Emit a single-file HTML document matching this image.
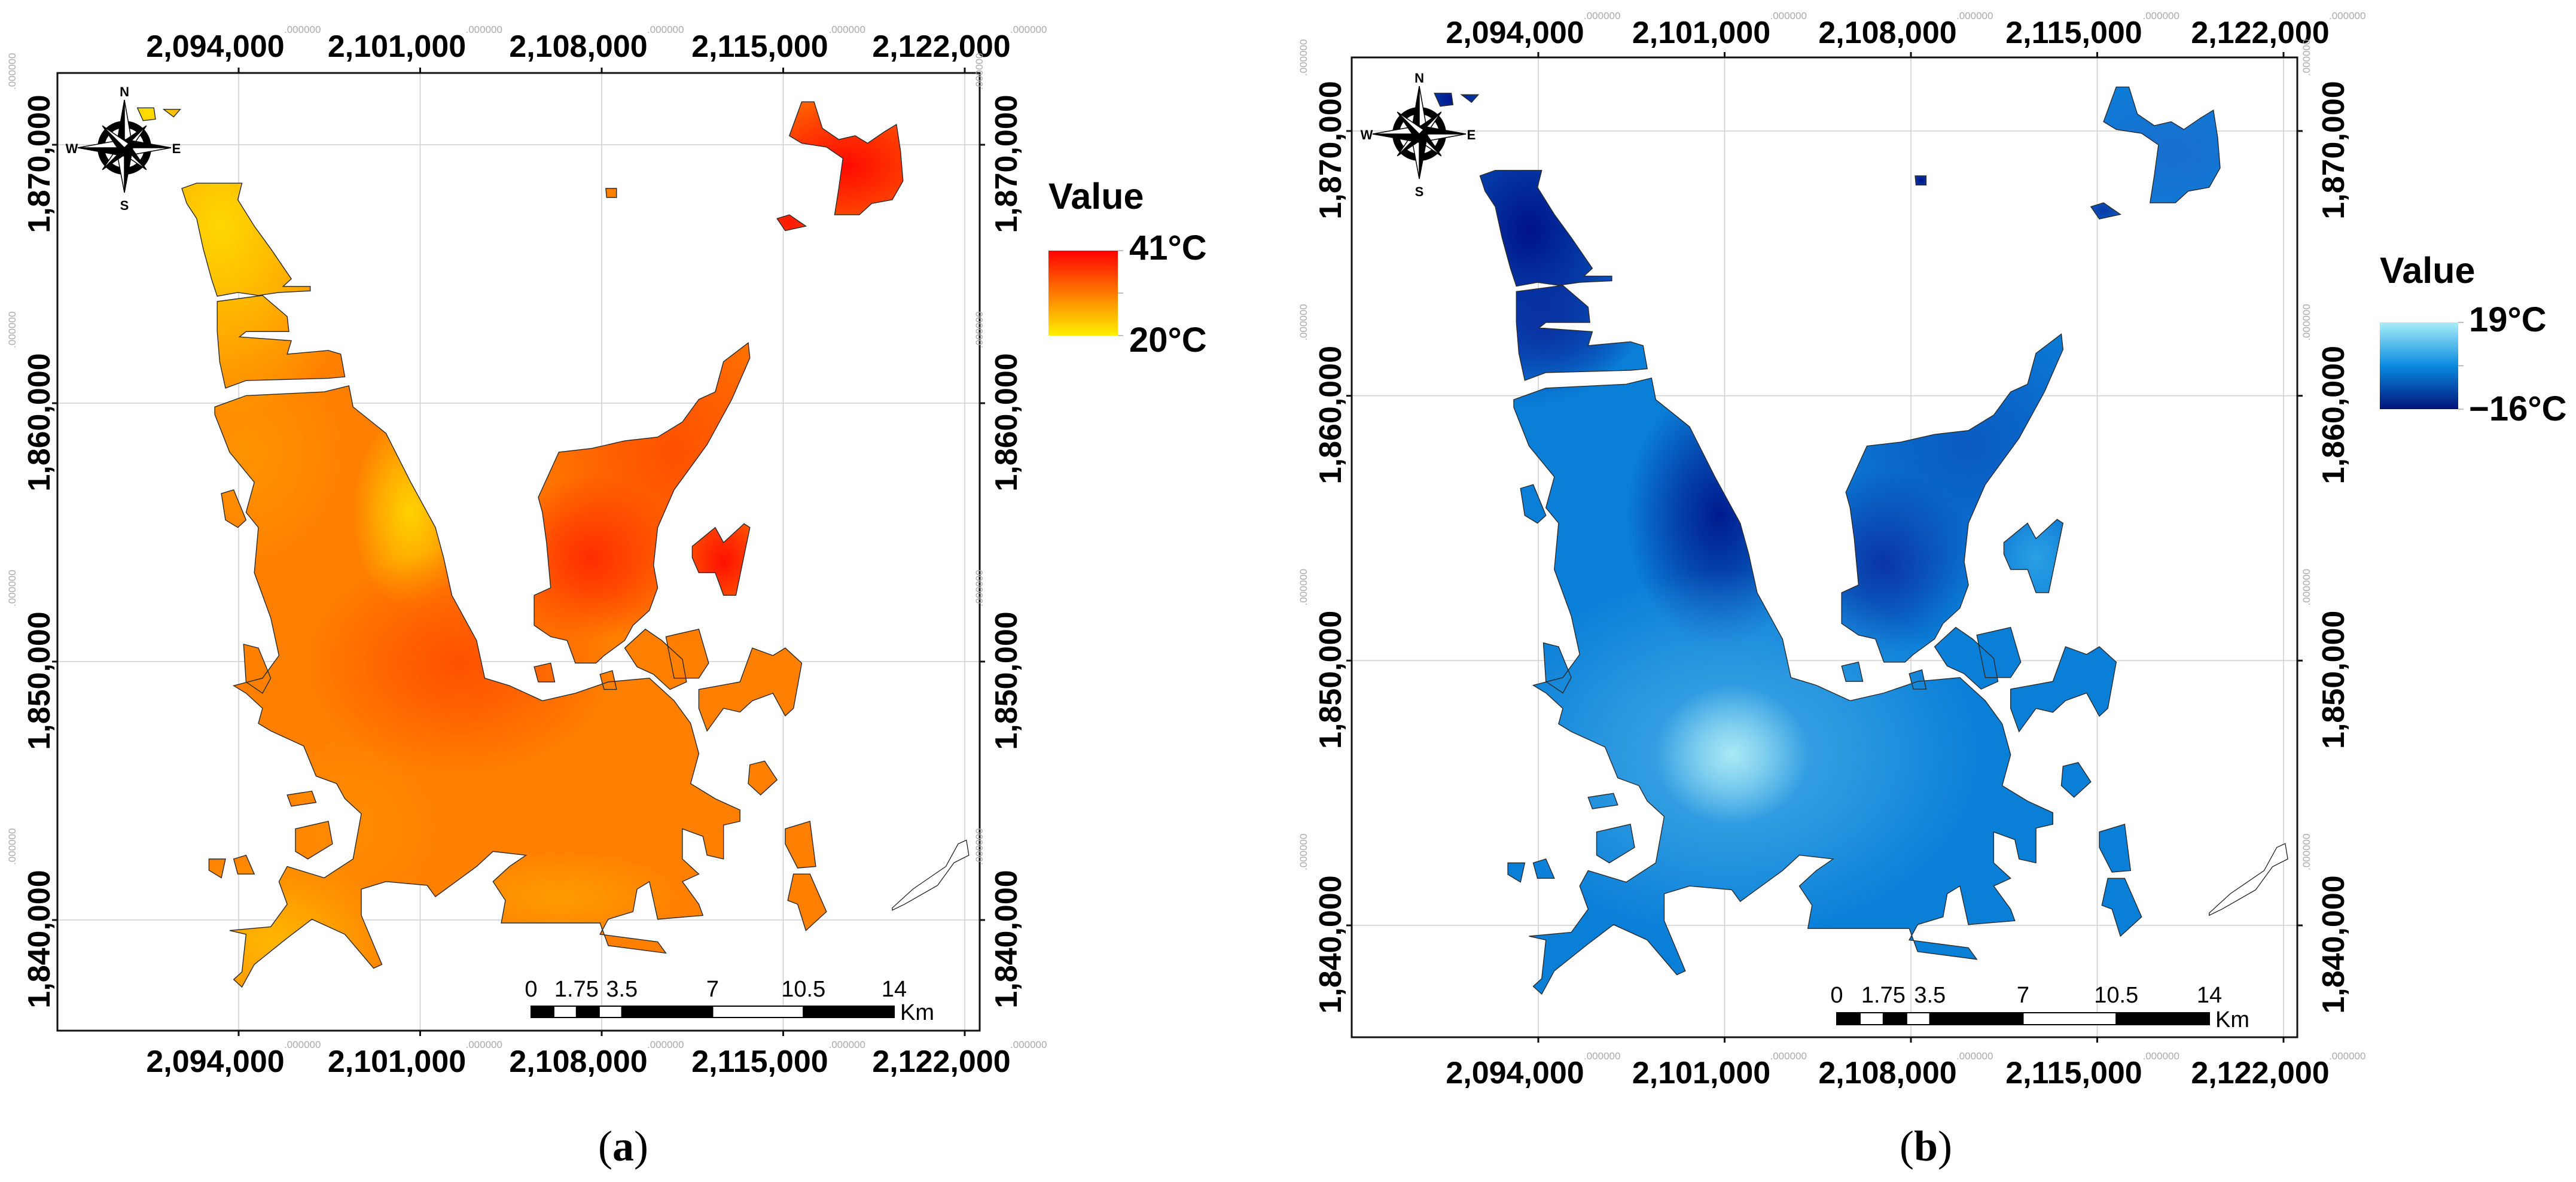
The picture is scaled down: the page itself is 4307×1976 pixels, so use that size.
<!DOCTYPE html>
<html><head><meta charset="utf-8"><title>Temperature maps (a) and (b)</title>
<style>
html,body{margin:0;padding:0;background:#fff;}
svg{display:block;font-family:"Liberation Sans",Arial,sans-serif;}
</style></head>
<body>
<svg id="fig" xmlns="http://www.w3.org/2000/svg" width="4307" height="1976" viewBox="0 0 4307 1976">
<rect x="0" y="0" width="4307" height="1976" fill="#fff"/>
<defs id="defs"></defs>
</svg>
<script>
// ---- axis data ----
const xTickValues=[2094000,2101000,2108000,2115000,2122000];
const xTickLabels=["2,094,000","2,101,000","2,108,000","2,115,000","2,122,000"];
const yTickValues=[1870000,1860000,1850000,1840000];
const yTickLabels=["1,870,000","1,860,000","1,850,000","1,840,000"];
const scaleBarStops=[0,0.875,1.75,2.625,3.5,7,10.5,14];
const scaleBarLabelKm=[0,1.75,3.5,7,10.5,14];
const scaleBarLabels=["0","1.75","3.5","7","10.5","14"];
const legendAValues=["41°C","20°C"];
const legendBValues=["19°C","−16°C"];

// ---- map geometry (digitised reference units) ----
const shapes=[
 [[222,250],[240,243],[295,243],[290,265],[310,300],[330,330],[355,370],[345,380],[378,380],[378,386],[340,388],[315,392],[290,388],[265,393],[258,370],[248,330],[240,290],[228,270]],
 [[265,400],[320,392],[350,420],[352,440],[300,440],[292,447],[355,452],[350,470],[400,465],[415,470],[420,500],[400,502],[300,505],[275,515],[268,480],[265,440]],
 [[262,540],[300,525],[395,520],[425,512],[430,540],[470,575],[500,640],[530,700],[540,740],[550,790],[570,830],[580,850],[590,900],[620,910],[660,930],[700,920],[740,905],[790,900],[820,930],[840,960],[850,1000],[840,1040],[870,1060],[900,1075],[900,1090],[880,1095],[880,1140],[860,1135],[855,1110],[830,1100],[830,1140],[850,1160],[830,1170],[850,1200],[855,1215],[800,1220],[790,1170],[775,1180],[770,1210],[740,1220],[730,1240],[800,1250],[810,1265],[740,1255],[730,1225],[610,1225],[615,1195],[600,1170],[620,1150],[640,1135],[600,1130],[580,1150],[530,1190],[520,1175],[470,1170],[440,1180],[440,1215],[465,1280],[455,1285],[420,1240],[380,1220],[350,1245],[310,1280],[295,1310],[285,1300],[295,1290],[300,1240],[280,1235],[330,1230],[350,1200],[340,1170],[350,1150],[395,1165],[430,1140],[440,1080],[420,1060],[410,1040],[385,1030],[370,990],[350,980],[330,970],[315,960],[320,940],[300,920],[285,910],[320,900],[340,870],[330,820],[310,760],[315,700],[300,680],[310,640],[280,600],[262,550]],
 [[655,660],[680,600],[720,595],[760,585],[800,580],[830,560],[850,530],[870,520],[880,480],[910,455],[912,475],[890,530],[860,590],[820,650],[800,700],[795,750],[800,780],[790,810],[770,830],[760,850],[735,870],[725,880],[700,880],[690,850],[670,845],[650,830],[650,790],[670,780],[665,720],[660,680]],
 [[760,860],[785,835],[805,850],[830,875],[835,905],[815,915],[795,895],[775,885]],
 [[810,845],[850,835],[862,880],[850,900],[820,900]],
 [[842,725],[870,700],[880,720],[905,695],[912,700],[895,790],[880,790],[870,760],[850,760],[842,740]],
 [[850,915],[900,905],[915,860],[940,870],[955,860],[975,880],[965,940],[955,950],[940,920],[915,930],[900,945],[880,940],[860,970],[850,940]],
 [[912,1015],[930,1010],[945,1035],[925,1055],[910,1040]],
 [[955,1100],[985,1090],[992,1150],[970,1152],[955,1120]],
 [[965,1160],[985,1160],[1005,1210],[980,1235],[970,1200],[958,1195]],
 [[960,180],[975,135],[990,135],[1000,170],[1020,185],[1040,180],[1055,190],[1075,175],[1090,165],[1095,200],[1098,240],[1085,265],[1060,270],[1045,285],[1015,285],[1020,250],[1025,210],[1005,195],[975,190]],
 [[945,290],[960,285],[980,300],[955,306]],
 [[737,250],[750,250],[750,262],[738,262]],
 [[270,655],[285,650],[300,690],[290,700],[275,690]],
 [[297,855],[315,860],[330,900],[320,920],[300,905]],
 [[255,1140],[275,1140],[270,1165],[255,1155]],
 [[285,1140],[300,1135],[310,1160],[290,1160]],
 [[350,1055],[380,1050],[385,1065],[355,1070]],
 [[360,1100],[400,1090],[405,1120],[375,1140],[360,1130]],
 [[168,143],[188,143],[190,158],[175,160]],
 [[200,145],[220,145],[212,155]],
 [[650,885],[670,880],[675,905],[655,905]],
 [[730,895],[745,890],[750,915],[735,915]]
];
const islet=[[1085,1205],[1110,1180],[1150,1150],[1165,1120],[1175,1115],[1178,1135],[1160,1145],[1140,1175],[1100,1200],[1085,1208]];

// temperature field hot/cold spots: [zx, zy, rx, ry, color, opacity]
const fieldABase="#ff8000";
const fieldA=[
 [270,300,180,260,"#ffd800",1],[500,680,70,130,"#ffdc00",0.9],[330,1250,160,120,"#ffc400",0.8],
 [560,880,190,150,"#ff4800",0.85],[720,740,110,110,"#ff1e00",0.9],[820,600,200,260,"#ff4000",0.75],
 [1030,220,160,120,"#ff0a00",1],[960,295,60,60,"#ff1800",1],[880,745,60,80,"#ff1000",1],
 [680,1190,150,60,"#ffa800",0.7],[300,600,120,150,"#ffa000",0.6],[420,1100,120,120,"#ff9800",0.5],
 [180,150,60,40,"#ffe000",1]];
const fieldBBase="#0a7fd8";
const fieldB=[
 [280,320,170,230,"#00128a",1],[300,440,110,90,"#0a2ea0",0.9],[505,690,110,170,"#001a8e",1],
 [700,750,110,120,"#0a2a9e",0.9],[800,600,200,200,"#0a4ab8",0.7],[1040,220,150,110,"#1a6fd0",1],
 [520,1000,300,240,"#55b8ea",0.75],[520,1000,90,90,"#b5f0f7",0.9],[880,745,60,80,"#2aa0e5",1],
 [190,150,60,40,"#00128a",1],[744,256,20,20,"#00128a",1],[960,295,40,30,"#0a3aa8",1]];

const NS="http://www.w3.org/2000/svg";
const svg=document.getElementById("fig");
const defs=document.getElementById("defs");
function mk(tag,attrs,parent){const e=document.createElementNS(NS,tag);for(const k in attrs)e.setAttribute(k,attrs[k]);(parent||svg).appendChild(e);return e;}

const panels=[
 {id:"a",x0:399,x1:1613,y0:242,y1:1538,frame:[96,122,1638,1723],topBase:95,botBase:1792,leftX:66,rightX:1683,
  base:fieldABase,field:fieldA,legend:legendAValues,legendStops:["#ff0000","#ff7a00","#fff000"],
  lg:{tx:1753,tb:349,bx:1753,by0:419,bx1:1869,by1:561,lx:1888,lb0:434,lb1:588},
  sb:{x:888,y:1682,h:19,lb:1666},compass:[208,247],cap:{x:1042,y:1940,t:"a"}},
 {id:"b",x0:2572,x1:3818,y0:219,y1:1547,frame:[2260,96,3841,1734],topBase:72,botBase:1811,leftX:2225,rightX:3902,
  base:fieldBBase,field:fieldB,legend:legendBValues,legendStops:["#a8eef8","#0a8be0","#00137a"],
  lg:{tx:3979,tb:473,bx:3979,by0:539,bx1:4110,by1:684,lx:4128,lb0:554,lb1:703},
  sb:{x:3071,y:1693,h:20,lb:1676},compass:[2373,224],cap:{x:3220,y:1940,t:"b"}}
];

function zE(zx){return 2094000+(zx-291)*28000/882;}
function zN(zy){return 1870000-(zy-192)*30000/1029;}

panels.forEach(P=>{
 const xs=E=>P.x0+(E-2094000)*(P.x1-P.x0)/28000;
 const ys=N=>P.y0+(1870000-N)*(P.y1-P.y0)/30000;
 const g=mk("g",{});
 
 
 const [fx0,fy0,fx1,fy1]=P.frame;

 xTickValues.forEach((v,i)=>{
  const l=mk("line",{x1:xs(v),x2:xs(v),y1:fy0,y2:fy1,stroke:"#cfcfcf","stroke-width":1.5},g);
  
  
 });
 yTickValues.forEach((v,i)=>{
  const l=mk("line",{x1:fx0,x2:fx1,y1:ys(v),y2:ys(v),stroke:"#cfcfcf","stroke-width":1.5},g);
  
  
 });

 const toPath=pts=>"M"+pts.map(p=>xs(zE(p[0])).toFixed(1)+" "+ys(zN(p[1])).toFixed(1)).join(" L")+" Z";
 const dAll=shapes.map(toPath).join(" ");
 const cp=mk("clipPath",{id:"clip-"+P.id},defs);
 mk("path",{d:dAll},cp);
 const fieldG=mk("g",{"clip-path":"url(#clip-"+P.id+")"},g);
 
 
 mk("rect",{x:fx0,y:fy0,width:fx1-fx0,height:fy1-fy0,fill:P.base},fieldG);
 P.field.forEach((h,i)=>{
  const gid="rg-"+P.id+"-"+i;
  const rg=mk("radialGradient",{id:gid},defs);
  mk("stop",{offset:"0","stop-color":h[4],"stop-opacity":h[5]},rg);
  mk("stop",{offset:"0.45","stop-color":h[4],"stop-opacity":h[5]*0.6},rg);
  mk("stop",{offset:"1","stop-color":h[4],"stop-opacity":0},rg);
  const e=mk("ellipse",{cx:xs(zE(h[0])),cy:ys(zN(h[1])),rx:h[2]*(P.x1-P.x0)/882,ry:h[3]*(P.y1-P.y0)/1029,fill:"url(#"+gid+")"},fieldG);
  
  
 });
 const outline=mk("path",{d:dAll,fill:"none",stroke:"#2a2a2a","stroke-width":1.4},g);
 
 
 const isl=mk("path",{d:toPath(islet),fill:"#fff",stroke:"#222","stroke-width":1.3},g);
 
 

 const fr=mk("rect",{x:fx0,y:fy0,width:fx1-fx0,height:fy1-fy0,fill:"none",stroke:"#111","stroke-width":3},g);
 
 

 xTickValues.forEach((v,i)=>{
  const x=xs(v);
  mk("line",{x1:x,x2:x,y1:fy0-9,y2:fy0,stroke:"#111","stroke-width":3},g);
  mk("line",{x1:x,x2:x,y1:fy1,y2:fy1+9,stroke:"#111","stroke-width":3},g);
  [[P.topBase,"top"],[P.botBase,"bottom"]].forEach(([b,s])=>{
   const t=mk("text",{x:x-39,y:b,"text-anchor":"middle","font-size":52,"font-weight":"bold",fill:"#000"},g);
   t.textContent=xTickLabels[i];
   
   
   const s2=mk("text",{x:x+76,y:b-40,"text-anchor":"start","font-size":17,fill:"#aaa"},g);
   s2.textContent=".000000";
   
   
  });
 });
 yTickValues.forEach((v,i)=>{
  const y=ys(v);
  mk("line",{x1:fx0-9,x2:fx0,y1:y,y2:y,stroke:"#111","stroke-width":3},g);
  mk("line",{x1:fx1,x2:fx1+9,y1:y,y2:y,stroke:"#111","stroke-width":3},g);
  [[P.leftX,"left"],[P.rightX,"right"]].forEach(([cx,s])=>{
   const t=mk("text",{x:0,y:0,"text-anchor":"middle","dominant-baseline":"central","font-size":52,"font-weight":"bold",fill:"#000",transform:"translate("+cx+","+(y+32)+") rotate(-90)"},g);
   t.textContent=yTickLabels[i];
   
   
   const s2=mk("text",{x:0,y:0,"text-anchor":"start","font-size":17,fill:"#aaa",transform:"translate("+(cx-40)+","+(y-92)+") rotate(-90)"},g);
   s2.textContent=".000000";
   
   
  });
 });

 const kmPx=(P.x1-P.x0)/28;
 const sbG=mk("g",{},g);
 
 
 for(let i=0;i<scaleBarStops.length-1;i++){
  const a=P.sb.x+scaleBarStops[i]*kmPx,b=P.sb.x+scaleBarStops[i+1]*kmPx;
  mk("rect",{x:a,y:P.sb.y,width:b-a,height:P.sb.h,fill:i%2?"#fff":"#000",stroke:"#000","stroke-width":2},sbG);
 }
 scaleBarLabelKm.forEach((k,i)=>{
  const t=mk("text",{x:P.sb.x+k*kmPx,y:P.sb.lb,"text-anchor":"middle","font-size":38,fill:"#000"},sbG);
  t.textContent=scaleBarLabels[i];
 });
 const km=mk("text",{x:P.sb.x+14*kmPx+10,y:P.sb.y+P.sb.h+4,"font-size":38,fill:"#000"},sbG);
 km.textContent="Km";

 const lg=P.lg;
 const lgG=mk("g",{},g);
 
 
 const lt=mk("text",{x:lg.tx,y:lg.tb,"font-size":61,"font-weight":"bold",fill:"#000"},lgG);
 lt.textContent="Value";
 const lgid="lg-"+P.id;
 const lgr=mk("linearGradient",{id:lgid,x1:0,y1:0,x2:0,y2:1},defs);
 P.legendStops.forEach((c,i)=>mk("stop",{offset:i/(P.legendStops.length-1),"stop-color":c},lgr));
 const bar=mk("rect",{x:lg.bx,y:lg.by0,width:lg.bx1-lg.bx,height:lg.by1-lg.by0,fill:"url(#"+lgid+")"},lgG);
 
 
 [lg.by0,(lg.by0+lg.by1)/2,lg.by1].forEach(yy=>mk("line",{x1:lg.bx1,x2:lg.bx1+9,y1:yy,y2:yy,stroke:"#aaa","stroke-width":1.5},lgG));
 const l0=mk("text",{x:lg.lx,y:lg.lb0,"font-size":58,"font-weight":"bold",fill:"#000"},lgG);
 l0.textContent=P.legend[0];
 
 
 const l1=mk("text",{x:lg.lx,y:lg.lb1,"font-size":58,"font-weight":"bold",fill:"#000"},lgG);
 l1.textContent=P.legend[1];
 
 

 const [cx,cy]=P.compass;
 const cg=mk("g",{transform:"translate("+cx+","+cy+")"},g);
 
 
 mk("circle",{cx:0,cy:0,r:39,fill:"none",stroke:"#000","stroke-width":12},cg);
 const pts=[[0,80,14],[45,52,10],[90,78,14],[135,52,10],[180,75,14],[225,52,10],[270,78,14],[315,52,10]];
 pts.forEach(([ang,L,w])=>{
  const r=ang*Math.PI/180;
  const tx=Math.sin(r)*L,ty=-Math.cos(r)*L;
  const px=Math.cos(r)*w,py=Math.sin(r)*w;
  mk("polygon",{points:"0,0 "+tx+","+ty+" "+(-px)+","+(-py),fill:"#000",stroke:"#000","stroke-width":1.5},cg);
  mk("polygon",{points:"0,0 "+tx+","+ty+" "+px+","+py,fill:"#fff",stroke:"#000","stroke-width":1.5},cg);
 });
 [["N",0,-86],["S",0,104],["W",-88,9],["E",87,9]].forEach(([s,x,y])=>{
  const t=mk("text",{x:x,y:y,"text-anchor":"middle","font-size":22,"font-weight":"bold",fill:"#000"},cg);
  t.textContent=s;
 });

 const cap=mk("text",{x:P.cap.x,y:P.cap.y,"text-anchor":"middle","font-size":72,"font-family":"Liberation Serif, serif",fill:"#000"},svg);
 
 
 const c1=mk("tspan",{},cap);c1.textContent="(";
 const c2=mk("tspan",{"font-weight":"bold"},cap);c2.textContent=P.cap.t;
 const c3=mk("tspan",{},cap);c3.textContent=")";
});
</script>
</body></html>
